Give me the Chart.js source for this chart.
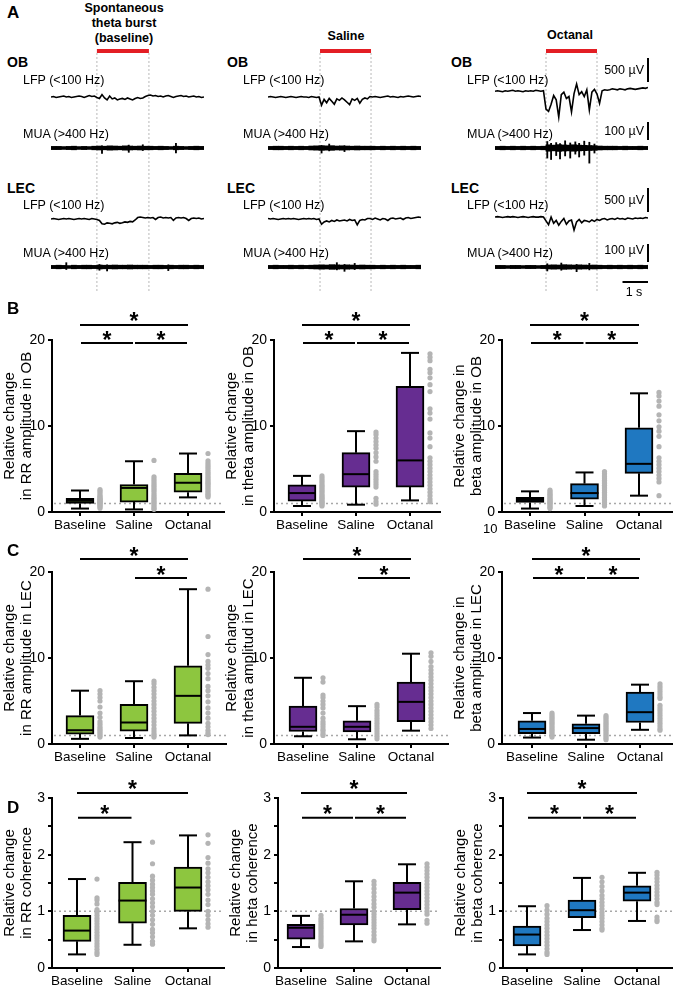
<!DOCTYPE html>
<html>
<head>
<meta charset="utf-8">
<script src="https://cdn.jsdelivr.net/npm/chart.js@4.4.0/dist/chart.umd.min.js"></script>
<style>
  body { margin: 0; width: 678px; height: 987px; position: relative; overflow: hidden; background: #fff;
         font-family: "Liberation Sans", Arial, sans-serif; color: #000; }
  canvas { position: absolute; }
  .lbl { position: absolute; white-space: nowrap; }
</style>
</head>
<body>
<script>
// ========================================
// Panel A: example traces (µV). LFP every 0.1 s, MUA envelope every 0.2 s
// ========================================
const lfpStep = 0.1;
const muaStep = 0.2;
const traceDuration = 6.0;
const burstStart = [1.8, 2.04, 2.0];
const burstEnd = [3.84, 4.04, 4.0];

const lfpOB = [
  [0, 10, -10, 0, 10, 20, 0, 10, -10, 0, 10, 20, 10, -10, 10, 30, 10, 20, -10, -30,
   50, -20, -60, 20, -40, -20, -60, -40, -30, -50, -20, -40, -60, -30, -10, -30, -20, 10, 30, 40,
   20, 30, 10, 20, 0, 20, 30, 10, -10, 10, 20, 30, 10, 20, 0, 10, 20, 0, 10, -10, 0],
  [0, 10, 0, -10, 0, 10, 0, -10, 0, 10, 0, -10, 0, 10, 0, 0, -10, 10, 0, -10,
   0, -170, -50, -120, -30, -90, -150, -40, -70, -20, -60, -110, -160, -40, -70, -30, -130, -50, -20, -40,
   10, 0, 10, 0, -10, 0, 10, 20, 0, 10, 0, -10, 10, 0, 10, 20, 10, 0, 10, 20, 10],
  [120, 130, 120, 110, 130, 120, 130, 140, 120, 130, 120, 110, 130, 120, 130, 120, 140, 130, 120, 130,
   -250, -300, -150, 30, -60, -420, 50, 100, -30, 10, -310, 70, 270, 50, 110, 10, 150, -270, 100, 160,
   60, -130, 130, 150, 140, 150, 170, 160, 150, 170, 160, 150, 170, 180, 170, 160, 170, 180, 190, 180, 200]
];
const lfpLEC = [
  [0, 10, 0, -10, 0, 10, 0, 10, 0, -10, 0, 10, 0, 10, 0, -10, 10, 0, -10, -30,
   -100, -110, -80, -90, -100, -80, -70, -90, -80, -60, -70, -50, -60, -20, 30, 40, 30, 20, 30, 20,
   30, -10, 30, 40, 20, 30, 20, 30, -30, 20, 30, 20, 30, 10, -30, 10, 20, 10, 20, 0, 10],
  [10, 0, 10, 0, -10, 0, 10, 0, 10, 0, 10, 0, -10, 0, 10, 0, 10, 0, 10, -10,
   0, -110, -60, -40, -60, -30, -50, -20, -40, -30, -20, -40, -10, -30, -20, -120, -30, -10, -20, 10,
   10, -10, 20, 0, -20, 10, 0, -30, 10, 20, 0, 10, 20, -10, 20, 30, 10, 20, 30, 40, 30],
  [40, 50, 40, 30, 40, 50, 40, 50, 40, 30, 40, 50, 40, 30, 40, 50, 40, 40, 50, 40,
   -40, -120, 40, -90, -30, -130, -50, 10, -110, -40, -20, -230, -60, -10, -80, -30, -40, -60, -20, -50,
   -10, -30, 0, 10, -20, 0, 10, -10, 20, 0, 10, -10, 20, 10, 0, 20, 10, 20, 10, 30, 20]
];

// MUA half band width per 0.2 s bin, plus single spikes [t, low, high]
const muaOB = [
  [9, 9, 8, 9, 10, 8, 9, 8, 10, 11, 10, 12, 11, 10, 12, 11, 10, 11, 10, 10, 9, 10, 9, 8, 10, 9, 8, 9, 10, 9, 8],
  [9, 10, 10, 9, 10, 9, 10, 9, 11, 12, 13, 12, 13, 11, 12, 11, 10, 11, 10, 10, 10, 9, 10, 9, 10, 9, 10, 9, 10, 9, 9],
  [9, 10, 9, 10, 9, 10, 9, 10, 9, 10, 18, 16, 19, 17, 16, 18, 16, 15, 14, 13, 11, 10, 10, 10, 9, 10, 9, 9, 10, 9, 9]
];
const muaLEC = [
  [9, 10, 9, 8, 10, 9, 10, 10, 9, 11, 10, 10, 11, 10, 10, 11, 10, 10, 10, 9, 10, 10, 9, 10, 9, 10, 10, 9, 10, 9, 10],
  [9, 10, 9, 9, 10, 9, 10, 9, 10, 11, 12, 11, 13, 12, 11, 12, 11, 10, 11, 10, 10, 9, 10, 9, 10, 9, 10, 9, 9, 10, 9],
  [9, 9, 8, 9, 9, 8, 9, 9, 8, 9, 11, 12, 11, 13, 12, 11, 12, 11, 10, 11, 10, 9, 10, 9, 10, 9, 10, 9, 10, 9, 10]
];
const spikesOB = [
  [[2.0, -30, 12], [3.05, -24, 16], [3.6, -14, 18], [4.9, -28, 26]],
  [[2.1, -28, 14], [2.4, -16, 22], [3.0, -20, 12]],
  [[2.05, -56, 36], [2.2, -64, 26], [2.4, -42, 30], [2.55, -60, 24], [2.75, -44, 40], [2.95, -56, 28],
   [3.15, -34, 34], [3.3, -50, 26], [3.5, -40, 38], [3.7, -84, 32], [3.9, -28, 22]]
];
const spikesLEC = [
  [[0.6, -14, 24], [1.9, -18, 14], [2.2, -22, 12], [4.6, -20, 12]],
  [[2.7, -16, 24], [3.0, -24, 14], [3.4, -14, 20]],
  [[2.05, -22, 18], [2.6, -18, 22], [3.2, -26, 14], [3.7, -16, 20]]
];

// calibration bars: [axis, bottom (µV), length (µV)], time bar in s
const scaleBars = [['lfpOB', 310, 500], ['muaOB', 44, 100], ['lfpLEC', 146, 500], ['muaLEC', 28, 100]];
const timeBar = 1;

// ========================================
// Panels B-D: box plots [whisker low, q1, median, q3, whisker high]
// ========================================
const groups = ['Baseline', 'Saline', 'Octanal'];

const rrOB     = [[0.4, 1.0, 1.3, 1.6, 2.5], [0.3, 1.15, 2.8, 3.2, 5.9], [1.7, 2.3, 3.4, 4.5, 6.8]];
const thetaOB  = [[0.7, 1.27, 2.2, 3.15, 4.2], [0.85, 2.9, 4.4, 6.9, 9.4], [1.35, 2.9, 6.0, 14.6, 18.5]];
const betaOB   = [[0.4, 1.1, 1.4, 1.7, 2.4], [0.7, 1.5, 2.2, 3.3, 4.6], [1.9, 4.5, 5.6, 9.8, 13.8]];
const rrLEC    = [[0.6, 1.15, 1.6, 3.3, 6.2], [0.7, 1.5, 2.5, 4.6, 7.3], [1.0, 2.4, 5.6, 9.1, 18.0]];
const thetaLEC = [[0.9, 1.45, 2.0, 4.4, 7.7], [0.55, 1.4, 2.0, 2.7, 4.4], [1.55, 2.6, 4.9, 7.2, 10.5]];
const betaLEC  = [[0.75, 1.2, 1.75, 2.7, 3.6], [0.5, 1.2, 1.85, 2.35, 3.3], [1.65, 2.5, 3.7, 6.05, 6.9]];
const rrCoh    = [[0.24, 0.47, 0.66, 0.93, 1.57], [0.41, 0.79, 1.19, 1.51, 2.22], [0.7, 1.0, 1.42, 1.78, 2.34]];
const thetaCoh = [[0.37, 0.51, 0.71, 0.77, 0.92], [0.47, 0.76, 0.94, 1.05, 1.53], [0.77, 1.03, 1.33, 1.51, 1.83]];
const betaCoh  = [[0.24, 0.39, 0.59, 0.74, 1.09], [0.67, 0.89, 1.02, 1.2, 1.59], [0.83, 1.18, 1.33, 1.45, 1.68]];

// individual values (gray dots)
const dotsRrOB = [
  [0.45, 0.6, 0.72, 0.85, 0.95, 1.05, 1.12, 1.2, 1.3, 1.38, 1.47, 1.56, 1.68, 1.82, 1.98, 2.2, 2.42, 2.6],
  [0.3, 0.45, 0.65, 0.85, 1.05, 1.2, 1.4, 1.6, 1.8, 2.0, 2.25, 2.5, 2.7, 2.9, 3.1, 3.35, 3.6, 3.85, 4.1, 6.0],
  [1.75, 1.9, 2.05, 2.2, 2.4, 2.6, 2.8, 3.0, 3.2, 3.35, 3.5, 3.7, 3.9, 4.1, 4.3, 4.5, 4.7, 4.95, 5.2, 5.45, 5.7, 5.95, 6.8]
];
const dotsThetaOB = [
  [0.7, 0.85, 1.0, 1.12, 1.25, 1.4, 1.55, 1.7, 1.85, 2.0, 2.2, 2.4, 2.6, 2.8, 3.0, 3.2, 3.45, 3.7, 3.95, 4.2],
  [0.9, 1.2, 1.6, 2.9, 3.2, 3.5, 3.8, 4.1, 4.4, 4.7, 5.9, 6.4, 6.9, 7.4, 7.8, 8.2, 8.6, 9.0, 9.3],
  [1.2, 1.5, 1.9, 2.3, 2.7, 3.1, 3.5, 3.9, 4.3, 4.7, 5.1, 5.5, 5.9, 6.3, 7.6, 8.6, 9.2, 10.8, 11.5, 12.0, 14.0, 14.8, 15.6, 16.2, 16.6, 17.6, 18.0, 18.4]
];
const dotsBetaOB = [
  [0.4, 0.55, 0.7, 0.85, 0.98, 1.1, 1.2, 1.32, 1.45, 1.6, 1.75, 1.9, 2.05, 2.2, 2.38, 2.55],
  [0.7, 0.9, 1.1, 1.3, 1.5, 1.7, 1.9, 2.1, 2.3, 2.5, 2.7, 2.9, 3.1, 3.3, 3.5, 3.7, 3.95, 4.2, 4.45, 4.7],
  [1.9, 3.5, 3.9, 4.3, 4.7, 5.1, 5.5, 5.9, 6.3, 7.6, 8.8, 9.4, 9.9, 10.6, 11.3, 12.3, 12.9, 13.5, 13.9]
];
const dotsRrLEC = [
  [0.8, 1.0, 1.2, 1.4, 1.6, 1.8, 2.0, 2.3, 2.6, 3.1, 3.6, 4.3, 5.0, 5.4, 5.8, 6.2],
  [0.8, 1.0, 1.2, 1.5, 1.8, 2.2, 2.6, 3.0, 3.4, 3.8, 4.2, 4.6, 5.0, 5.4, 5.8, 6.2, 6.6, 7.0, 7.3],
  [1.1, 1.3, 1.6, 2.0, 2.4, 3.0, 3.6, 4.2, 4.9, 5.6, 6.2, 6.7, 7.6, 8.2, 8.8, 9.2, 9.6, 10.4, 12.5, 18.0]
];
const dotsThetaLEC = [
  [1.0, 1.2, 1.5, 1.7, 2.0, 2.3, 2.6, 3.0, 3.6, 4.2, 4.6, 5.0, 5.4, 5.7, 7.2, 7.7],
  [0.6, 0.9, 1.2, 1.5, 1.8, 2.1, 2.4, 2.7, 3.0, 3.3, 3.6, 3.9, 4.3, 4.6],
  [1.8, 2.2, 2.6, 3.0, 3.4, 3.8, 4.2, 4.6, 5.0, 5.4, 5.8, 6.2, 6.6, 7.0, 7.4, 7.8, 8.2, 8.6, 9.0, 9.6, 10.2, 10.6]
];
const dotsBetaLEC = [
  [0.8, 1.0, 1.2, 1.4, 1.6, 1.8, 2.0, 2.2, 2.4, 2.6, 2.8, 3.0, 3.2, 3.4, 3.6],
  [0.5, 0.7, 0.9, 1.1, 1.3, 1.5, 1.7, 1.9, 2.1, 2.3, 2.5, 2.7, 2.9, 3.1, 3.3],
  [1.6, 1.8, 2.1, 2.4, 2.7, 3.0, 3.3, 3.6, 3.9, 4.2, 4.5, 5.3, 5.5, 5.8, 6.1, 6.4, 6.7, 7.0]
];
const dotsRrCoh = [
  [0.24, 0.28, 0.33, 0.38, 0.43, 0.48, 0.53, 0.58, 0.63, 0.68, 0.73, 0.78, 0.83, 0.88, 0.93, 0.98, 1.03, 1.13, 1.2, 1.24, 1.57],
  [0.42, 0.47, 0.55, 0.62, 0.68, 0.77, 0.85, 0.93, 1.0, 1.08, 1.15, 1.22, 1.3, 1.36, 1.42, 1.48, 1.55, 1.62, 1.84, 2.22],
  [0.72, 0.78, 0.85, 0.93, 1.0, 1.12, 1.2, 1.3, 1.38, 1.45, 1.52, 1.6, 1.68, 1.75, 1.85, 1.95, 2.2, 2.35]
];
const dotsThetaCoh = [
  [0.38, 0.41, 0.44, 0.48, 0.52, 0.56, 0.6, 0.64, 0.68, 0.72, 0.76, 0.8, 0.84, 0.88, 0.93],
  [0.48, 0.52, 0.58, 0.64, 0.7, 0.75, 0.8, 0.85, 0.9, 0.95, 1.0, 1.07, 1.13, 1.2, 1.26, 1.33, 1.4, 1.47, 1.53],
  [0.79, 0.84, 0.95, 1.0, 1.06, 1.12, 1.18, 1.24, 1.3, 1.36, 1.42, 1.48, 1.54, 1.6, 1.66, 1.72, 1.78, 1.84]
];
const dotsBetaCoh = [
  [0.24, 0.28, 0.34, 0.4, 0.46, 0.52, 0.58, 0.64, 0.7, 0.76, 0.82, 0.88, 0.95, 1.02, 1.1],
  [0.67, 0.7, 0.76, 0.82, 0.88, 0.93, 0.98, 1.04, 1.1, 1.16, 1.22, 1.28, 1.36, 1.44, 1.52, 1.6],
  [0.82, 0.85, 0.9, 1.12, 1.16, 1.22, 1.28, 1.34, 1.4, 1.46, 1.52, 1.58, 1.64, 1.69]
];

// significance: [from group, to group, row]; row heights in axis units
const sigAll = [[0, 2, 1], [0, 1, 0], [1, 2, 0]];
const sigNoBase = [[0, 2, 1], [1, 2, 0]];
const sigNoOct = [[0, 2, 1], [0, 1, 0]];
const sigRowsAmp = [19.65, 21.75];
const sigRowsAmpLEC = [19.3, 21.5];
const sigRowsCoh = [2.65, 3.09];

// ========================================
// Setup
// ========================================
const FONT = '"Liberation Sans", Arial, sans-serif';
Chart.defaults.font.family = FONT;
Chart.defaults.color = '#000';
Chart.defaults.animation = false;
Chart.defaults.responsive = false;
Chart.defaults.devicePixelRatio = 1;
Chart.defaults.plugins.legend.display = false;
Chart.defaults.plugins.tooltip.enabled = false;

const GREEN = '#8dc63f', PURPLE = '#662d91', BLUE = '#1f78c1', DOT = '#b4b4b4';

function addText(s, x, y, size, opts = {}) {
  const d = document.createElement('div');
  d.className = 'lbl';
  d.textContent = s;
  d.style.fontSize = size + 'px';
  d.style.lineHeight = size + 'px';
  d.style.top = (y - size / 2) + 'px';
  if (opts.bold) d.style.fontWeight = 'bold';
  if (opts.align === 'center') { d.style.left = x + 'px'; d.style.transform = 'translateX(-50%)'; }
  else if (opts.align === 'right') d.style.right = (678 - x) + 'px';
  else d.style.left = x + 'px';
  document.body.appendChild(d);
}

function makeCanvas(left, top, w, h) {
  const c = document.createElement('canvas');
  c.width = w; c.height = h;
  c.style.left = left + 'px'; c.style.top = top + 'px';
  document.body.appendChild(c);
  return c;
}

// ========================================
// Panel A
// ========================================
const traceLeft = [51, 268, 495];
const traceWidth = 153, traceTop = 45, traceHeight = 255, tracePad = 12;
const zeroY = { lfpOB: 97, muaOB: 148, lfpLEC: 219, muaLEC: 267 };
const uvPerPx = { lfpOB: 500 / 24, lfpLEC: 500 / 24, muaOB: 100 / 18, muaLEC: 100 / 18 };

function traceAxis(id) {
  const r = zeroY[id] - traceTop, s = uvPerPx[id];
  return { type: 'linear', display: false, min: -(traceHeight - r) * s, max: r * s };
}

function lfpData(arr) { return arr.map((v, i) => ({ x: i * lfpStep, y: v })); }
function bandData(arr) { return arr.map((a, i) => ({ x: i * muaStep + muaStep / 2, y: [-a, a] })); }
function spikeData(arr) { return arr.map(s => ({ x: s[0], y: [s[1], s[2]] })); }

function traceDecor(col) {
  return {
    id: 'traceDecor' + col,
    beforeDatasetsDraw(chart) {
      const { ctx, scales } = chart;
      const x1 = scales.x.getPixelForValue(burstStart[col]);
      const x2 = scales.x.getPixelForValue(burstEnd[col]);
      ctx.save();
      ctx.strokeStyle = '#b8b8b8'; ctx.lineWidth = 1; ctx.setLineDash([2, 2]);
      [x1, x2].forEach(px => {
        ctx.beginPath(); ctx.moveTo(px, 53 - traceTop); ctx.lineTo(px, 293 - traceTop); ctx.stroke();
      });
      ctx.setLineDash([]);
      ctx.strokeStyle = '#e31e24'; ctx.lineWidth = 4;
      ctx.beginPath(); ctx.moveTo(x1, 51 - traceTop); ctx.lineTo(x2, 51 - traceTop); ctx.stroke();
      ctx.restore();
    },
    afterDatasetsDraw(chart) {
      if (col !== 2) return;
      const { ctx, scales, chartArea } = chart;
      ctx.save();
      ctx.strokeStyle = '#000'; ctx.lineWidth = 2;
      const bx = chartArea.right;
      scaleBars.forEach(([axis, bottom, len]) => {
        ctx.beginPath();
        ctx.moveTo(bx, scales[axis].getPixelForValue(bottom));
        ctx.lineTo(bx, scales[axis].getPixelForValue(bottom + len));
        ctx.stroke();
      });
      const ty = 282 - traceTop;
      ctx.beginPath();
      ctx.moveTo(scales.x.getPixelForValue(traceDuration - timeBar), ty);
      ctx.lineTo(scales.x.getPixelForValue(traceDuration), ty);
      ctx.stroke();
      ctx.restore();
    }
  };
}

function traceColumn(col) {
  const cv = makeCanvas(traceLeft[col] - tracePad, traceTop, traceWidth + tracePad * 2, traceHeight);
  const line = (data, axis) => ({ type: 'line', data, yAxisID: axis, borderColor: '#000', borderWidth: 1.6, pointRadius: 0, tension: 0 });
  const bars = (data, axis, thick) => ({ type: 'bar', data, yAxisID: axis, backgroundColor: '#000', borderWidth: 0, barThickness: thick, grouped: false });
  new Chart(cv, {
    type: 'line',
    data: {
      datasets: [
        line(lfpData(lfpOB[col]), 'lfpOB'),
        bars(bandData(muaOB[col]), 'muaOB', 5.2),
        bars(spikeData(spikesOB[col]), 'muaOB', 1.2),
        line(lfpData(lfpLEC[col]), 'lfpLEC'),
        bars(bandData(muaLEC[col]), 'muaLEC', 5.2),
        bars(spikeData(spikesLEC[col]), 'muaLEC', 1.2)
      ]
    },
    options: {
      layout: { padding: { left: tracePad, right: tracePad, top: 0, bottom: 0 } },
      scales: {
        x: { type: 'linear', display: false, min: 0, max: traceDuration, offset: false, grid: { offset: false } },
        lfpOB: traceAxis('lfpOB'), muaOB: traceAxis('muaOB'),
        lfpLEC: traceAxis('lfpLEC'), muaLEC: traceAxis('muaLEC')
      }
    },
    plugins: [traceDecor(col)]
  });
}
[0, 1, 2].forEach(traceColumn);

// Panel A labels
addText('A', 7, 12, 17, { bold: true });
addText('Spontaneous', 124, 8, 12.5, { bold: true, align: 'center' });
addText('theta burst', 124, 23, 12.5, { bold: true, align: 'center' });
addText('(baseline)', 124, 38, 12.5, { bold: true, align: 'center' });
addText('Saline', 346, 36, 12.5, { bold: true, align: 'center' });
addText('Octanal', 570, 35, 12.5, { bold: true, align: 'center' });
[7, 227, 451].forEach(x => {
  addText('OB', x, 62, 14, { bold: true });
  addText('LEC', x, 188, 14, { bold: true });
  addText('LFP (<100 Hz)', x + 16, 80, 12.5);
  addText('MUA (>400 Hz)', x + 16, 134, 12.5);
  addText('LFP (<100 Hz)', x + 16, 205, 12.5);
  addText('MUA (>400 Hz)', x + 16, 253, 12.5);
});
addText('500 µV', 644, 70, 12.5, { align: 'right' });
addText('100 µV', 644, 131, 12.5, { align: 'right' });
addText('500 µV', 644, 200, 12.5, { align: 'right' });
addText('100 µV', 644, 250, 12.5, { align: 'right' });
addText('1 s', 634, 292, 12.5, { align: 'center' });

// ========================================
// Panels B-D
// ========================================
const rowY = [{ top: 340, bottom: 512 }, { top: 572, bottom: 744 }, { top: 798, bottom: 968 }];
const colX = [
  [{ axis: 52, x0: 80, unit: 54, right: 224 }, { axis: 274, x0: 302, unit: 54, right: 440 }, { axis: 502, x0: 530, unit: 54.5, right: 672 }],
  [{ axis: 52, x0: 80, unit: 54, right: 226 }, { axis: 274, x0: 303, unit: 54, right: 448 }, { axis: 502, x0: 532, unit: 54, right: 672 }],
  [{ axis: 52, x0: 77, unit: 55.5, right: 224 }, { axis: 278, x0: 301, unit: 53, right: 440 }, { axis: 503, x0: 527, unit: 55, right: 672 }]
];
const Y_W = 52, X_H = 26, PAD_TOP = 44, PAD_R = 8, BOX_W = 28, CAP_W = 18, DOT_OFF = 20;

function boxExtras(stats, sig, sigRows) {
  return {
    id: 'boxExtras',
    beforeDatasetsDraw(chart) {
      const { ctx, chartArea: a, scales: { y } } = chart;
      const py = y.getPixelForValue(1);
      ctx.save();
      ctx.strokeStyle = '#a8a8a8'; ctx.lineWidth = 1.5; ctx.setLineDash([2, 3]);
      ctx.beginPath(); ctx.moveTo(a.left + 2, py); ctx.lineTo(a.right, py); ctx.stroke();
      ctx.restore();
    },
    afterDatasetsDraw(chart) {
      const { ctx, scales: { x, y } } = chart;
      const seg = (x1, y1, x2, y2) => { ctx.beginPath(); ctx.moveTo(x1, y1); ctx.lineTo(x2, y2); ctx.stroke(); };
      ctx.save();
      ctx.strokeStyle = '#000'; ctx.lineWidth = 2; ctx.lineCap = 'butt';
      stats.forEach((s, i) => {
        const cx = x.getPixelForValue(i);
        seg(cx, y.getPixelForValue(s[3]), cx, y.getPixelForValue(s[4]));
        seg(cx - CAP_W / 2, y.getPixelForValue(s[4]), cx + CAP_W / 2, y.getPixelForValue(s[4]));
        seg(cx, y.getPixelForValue(s[1]), cx, y.getPixelForValue(s[0]));
        seg(cx - CAP_W / 2, y.getPixelForValue(s[0]), cx + CAP_W / 2, y.getPixelForValue(s[0]));
        seg(cx - BOX_W / 2, y.getPixelForValue(s[2]), cx + BOX_W / 2, y.getPixelForValue(s[2]));
      });
      ctx.fillStyle = '#000';
      ctx.font = 'bold 23px ' + FONT;
      ctx.textAlign = 'center';
      ctx.textBaseline = 'alphabetic';
      sig.forEach(([g1, g2, row]) => {
        const py = y.getPixelForValue(sigRows[row]);
        let xa = x.getPixelForValue(g1), xb = x.getPixelForValue(g2);
        if (row === 0) { xa += 1; xb -= 1; }
        seg(xa, py, xb, py);
        ctx.fillText('*', (xa + xb) / 2, py + 4.5);
      });
      ctx.restore();
    }
  };
}

function boxPanel(r, c, stats, dots, sig, sigRows, yMax, step, minor, color, title) {
  const L = colX[r][c], R = rowY[r];
  const w = Y_W + (L.right - L.axis) + PAD_R;
  const h = PAD_TOP + (R.bottom - R.top) + X_H;
  const cv = makeCanvas(L.axis - Y_W, R.top - PAD_TOP, w, h);
  const dotOff = DOT_OFF / L.unit;
  const dotPts = [];
  dots.forEach((g, i) => g.forEach(v => dotPts.push({ x: i + dotOff, y: v })));
  const yTicks = [];
  for (let v = 0; v <= yMax + 1e-9; v += minor) yTicks.push(+v.toFixed(3));

  new Chart(cv, {
    type: 'bar',
    data: {
      datasets: [
        { type: 'bar', data: stats.map((s, i) => ({ x: i, y: [s[1], s[3]] })), backgroundColor: color,
          borderColor: '#000', borderWidth: 2, borderSkipped: false, barThickness: BOX_W, grouped: false, order: 1 },
        { type: 'scatter', data: dotPts, pointRadius: 2.6, pointBackgroundColor: DOT, pointBorderWidth: 0, order: 2 }
      ]
    },
    options: {
      layout: { padding: { top: PAD_TOP, right: PAD_R, left: 0, bottom: 0 } },
      scales: {
        x: {
          type: 'linear', offset: false,
          min: (L.axis - L.x0) / L.unit, max: (L.right - L.x0) / L.unit,
          afterBuildTicks: s => { s.ticks = groups.map((g, i) => ({ value: i })); },
          afterFit: s => { s.height = X_H; s.paddingLeft = 0; s.paddingRight = 0; },
          ticks: { callback: v => groups[v], font: { size: 13.5 }, color: '#000', padding: 1, maxRotation: 0, autoSkip: false },
          grid: { offset: false, drawOnChartArea: false, drawTicks: true, tickLength: 4, color: '#000', lineWidth: 2 },
          border: { color: '#000', width: 2 }
        },
        y: {
          type: 'linear', min: 0, max: yMax,
          afterBuildTicks: s => { s.ticks = yTicks.map(v => ({ value: v })); },
          afterFit: s => { s.width = Y_W; s.paddingTop = 0; s.paddingBottom = 0; },
          ticks: {
            callback: v => (Math.abs(v / step - Math.round(v / step)) < 1e-6 ? String(v) : ''),
            font: { size: 14 }, color: '#000', padding: 3, autoSkip: false
          },
          grid: { drawOnChartArea: false, drawTicks: true, tickLength: 4, color: '#000', lineWidth: 2 },
          border: { color: '#000', width: 2 },
          title: { display: true, text: title, font: { size: 15, lineHeight: 1.13 }, color: '#000', padding: { top: 1, bottom: 0 } }
        }
      }
    },
    plugins: [boxExtras(stats, sig, sigRows)]
  });
}

boxPanel(0, 0, rrOB, dotsRrOB, sigAll, sigRowsAmp, 20, 10, 10, GREEN, ['Relative change', 'in RR amplitude in OB']);
boxPanel(0, 1, thetaOB, dotsThetaOB, sigAll, sigRowsAmp, 20, 10, 10, PURPLE, ['Relative change', 'in theta amplitude in OB']);
boxPanel(0, 2, betaOB, dotsBetaOB, sigAll, sigRowsAmp, 20, 10, 10, BLUE, ['Relative change in', 'beta amplitude in OB']);
boxPanel(1, 0, rrLEC, dotsRrLEC, sigNoBase, sigRowsAmpLEC, 20, 10, 10, GREEN, ['Relative change', 'in RR amplitude in LEC']);
boxPanel(1, 1, thetaLEC, dotsThetaLEC, sigNoBase, sigRowsAmpLEC, 20, 10, 10, PURPLE, ['Relative change', 'in theta amplitud in LEC']);
boxPanel(1, 2, betaLEC, dotsBetaLEC, sigAll, sigRowsAmpLEC, 20, 10, 10, BLUE, ['Relative change in', 'beta amplitude in LEC']);
boxPanel(2, 0, rrCoh, dotsRrCoh, sigNoOct, sigRowsCoh, 3, 1, 0.5, GREEN, ['Relative change', 'in RR coherence']);
boxPanel(2, 1, thetaCoh, dotsThetaCoh, sigAll, sigRowsCoh, 3, 1, 0.5, PURPLE, ['Relative change', 'in heta coherence']);
boxPanel(2, 2, betaCoh, dotsBetaCoh, sigAll, sigRowsCoh, 3, 1, 0.5, BLUE, ['Relative change', 'in beta coherence']);

addText('B', 7, 308, 17, { bold: true });
addText('C', 7, 550, 17, { bold: true });
addText('D', 7, 807, 17, { bold: true });
addText('10', 483, 528, 13);
</script>
</body>
</html>
